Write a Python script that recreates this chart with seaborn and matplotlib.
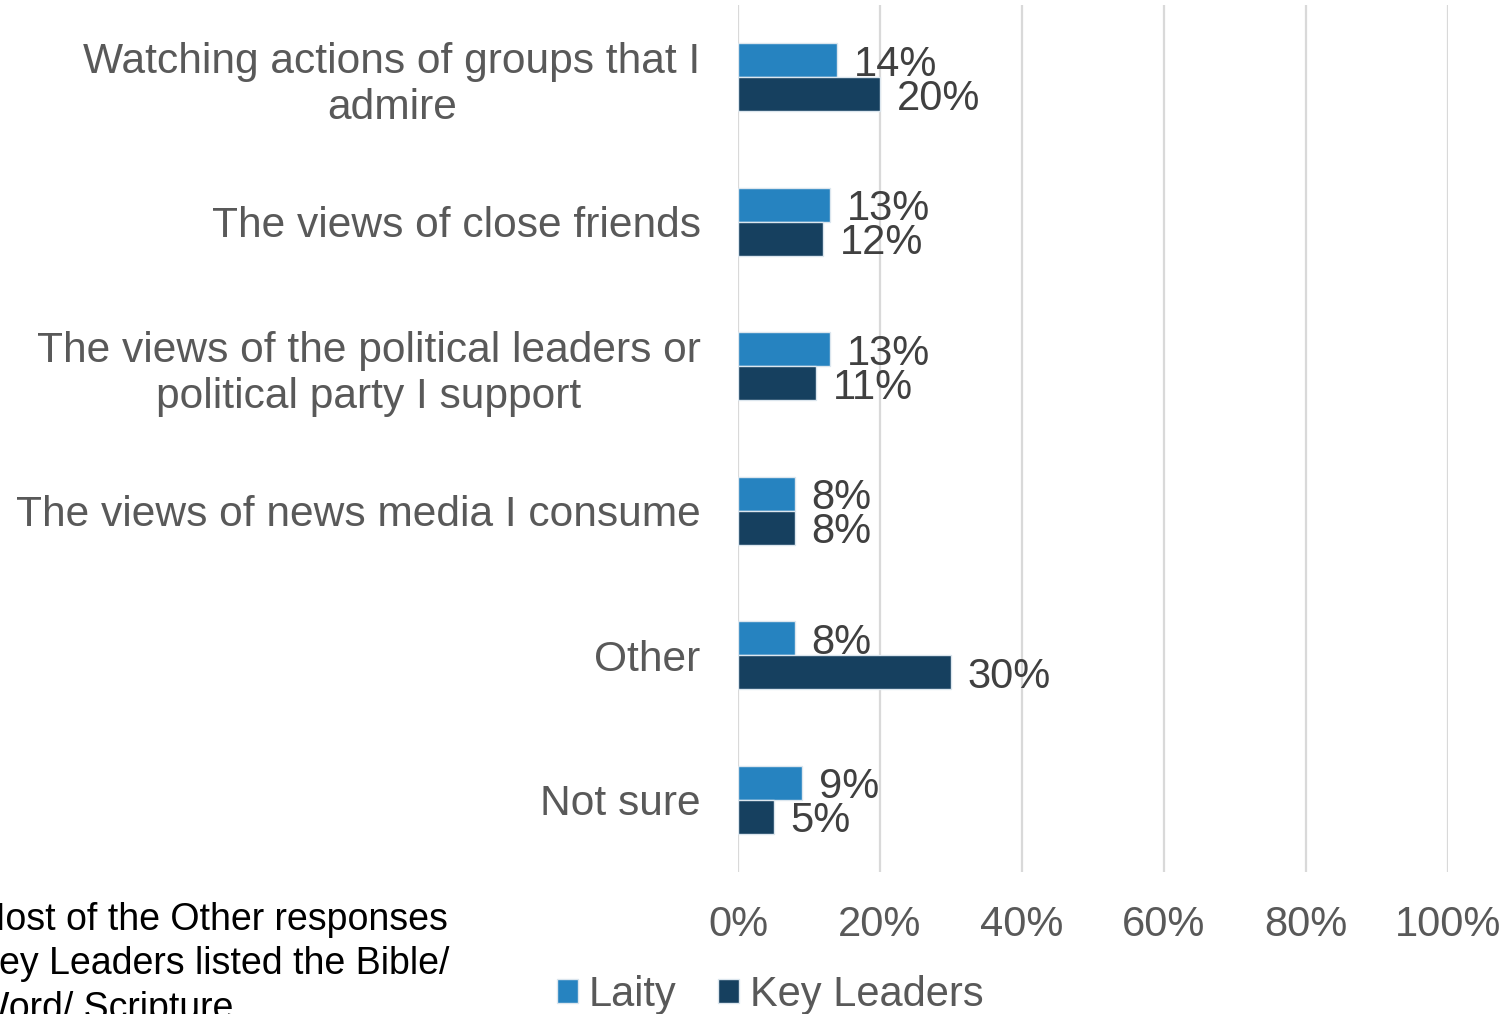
import pandas as pd
import matplotlib.pyplot as plt
import seaborn as sns
from matplotlib.ticker import PercentFormatter

# data
categories = [
    "Watching actions of groups that I\nadmire",
    "The views of close friends",
    "The views of the political leaders or\npolitical party I support",
    "The views of news media I consume",
    "Other",
    "Not sure",
]
laity = [14, 13, 13, 8, 8, 9]
key_leaders = [20, 12, 11, 8, 30, 5]
series_names = ["Laity", "Key Leaders"]
x_ticks = [0, 20, 40, 60, 80, 100]
footnote = "Most of the Other responses\nKey Leaders listed the Bible/\nWord/ Scripture"

df = pd.DataFrame({"category": categories, "Laity": laity, "Key Leaders": key_leaders})
long_df = df.melt(id_vars="category", var_name="group", value_name="pct")

sns.set_theme(style="white")
plt.rcParams["font.family"] = ["Liberation Sans", "DejaVu Sans"]

colors = {"Laity": "#2683C0", "Key Leaders": "#16405F"}

fig = plt.figure(figsize=(15.11, 10.14), dpi=100)
ax = fig.add_axes([738 / 1511, 1 - 872 / 1014, 710 / 1511, 867 / 1014])

sns.barplot(data=long_df, y="category", x="pct", hue="group", hue_order=series_names,
            order=categories, palette=colors, saturation=1, width=0.47, orient="h",
            edgecolor="#DCE6EE", linewidth=1, ax=ax)

for cont in ax.containers:
    txts = ax.bar_label(cont, labels=[f"{v:.0f}%" for v in cont.datavalues],
                        padding=12, fontsize=30, color="#404040")
    for t in txts:
        t.set_va("center_baseline")

ax.set_xlim(0, 100)
ax.set_xticks(x_ticks)
ax.xaxis.set_major_formatter(PercentFormatter(decimals=0))
ax.grid(axis="x", color="#D9D9D9", linewidth=1.6)
ax.set_axisbelow(True)
for s in ax.spines.values():
    s.set_visible(False)
ax.set_xlabel("")
ax.set_ylabel("")
ax.tick_params(axis="x", length=0, pad=24, labelsize=30, labelcolor="#595959")
ax.tick_params(axis="y", length=0, pad=27, labelsize=30.6, labelcolor="#595959")
for lbl in ax.get_yticklabels():
    lbl.set_multialignment("center")

handles, labels = ax.get_legend_handles_labels()
ax.get_legend().remove()
fig.legend(handles, labels, loc="center", bbox_to_anchor=(770 / 1511, 1 - 995 / 1014),
           ncol=2, frameon=False, fontsize=30, labelcolor="#595959",
           handlelength=0.5, handleheight=0.5, handletextpad=0.26,
           columnspacing=1.0, borderpad=0, borderaxespad=0)

# footnote sits partly off the left edge, as in the original slide
fig.text(-26 / 1511, 1 - 902 / 1014, footnote, ha="left", va="top",
         fontsize=27, color="black", linespacing=1.3)

fig.savefig("out.png", dpi=100)
